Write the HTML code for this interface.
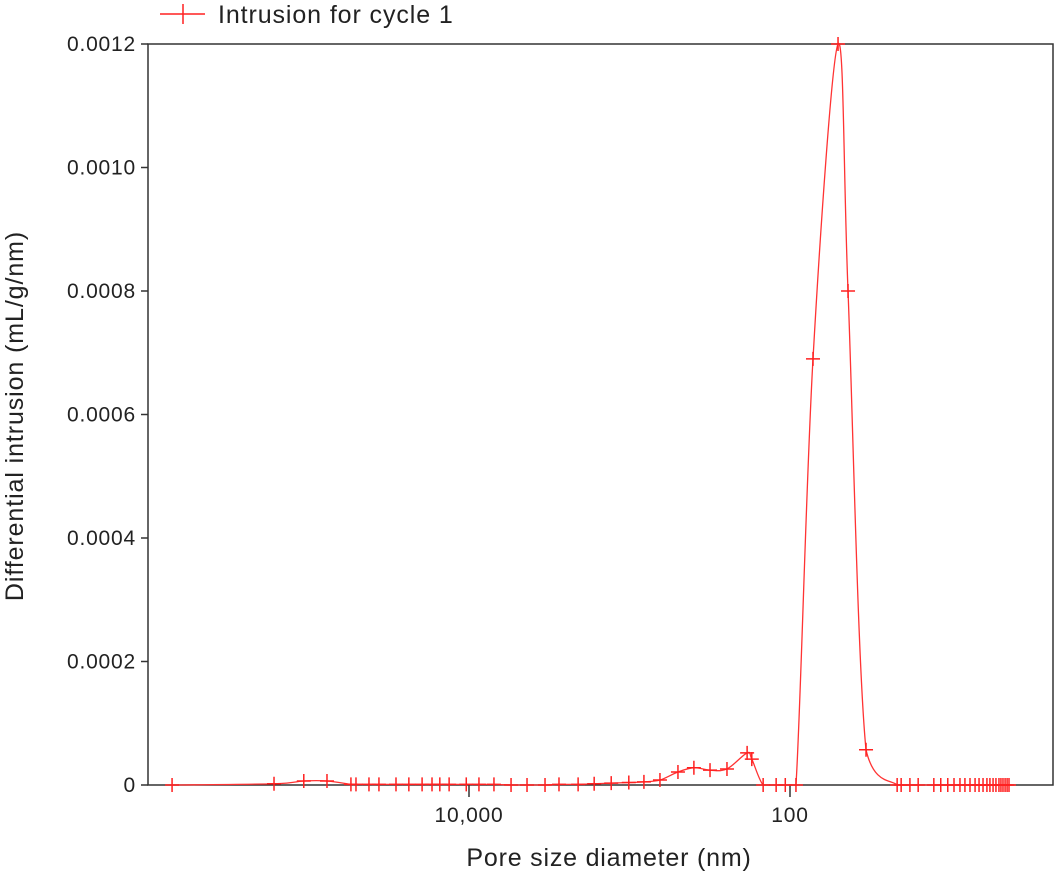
<!DOCTYPE html>
<html><head><meta charset="utf-8"><style>
body{margin:0;background:#fff;}
svg text{font-family:"Liberation Sans",sans-serif;fill:#222;}
</style></head><body>
<svg width="1055" height="875">
<g id="g"></g>
</svg>
<script>
const diameters=[708000,164000,107000,76700,54400,50600,42000,36400,28500,23700,19600,17000,15200,13300,10400,8670,6990,5470,4350,3360,2750,2090,1660,1300,1010,813,646,499,397,315,247,185,173,147,122,107,91.8,71.9,50.2,43.5,33.6,21.5,20.3,17.9,15.9,12.7,11.5,10.4,9.51,8.73,8.13,7.56,7.03,6.64,6.27,5.93,5.68,5.43,5.21,4.99,4.85,4.71,4.57,4.44,4.32];
const intrusion=[0,0.000002,0.0000065,0.0000065,0.000001,0.000001,0.000001,0.000001,0.000001,0.000001,0.000001,0.000001,0.000001,0.000001,0.000001,0.000001,0.000001,0,0,0,0.000001,0.000001,0.000002,0.000003,0.000004,0.000005,0.000008,0.000021,0.000028,0.000024,0.000026,0.000052,0.000042,0,0,0,0,0.00069,0.0012,0.0008,0.000057,0,0,0,0,0,0,0,0,0,0,0,0,0,0,0,0,0,0,0,0,0,0,0,0];
const yTicks=[0,0.0002,0.0004,0.0006,0.0008,0.0010,0.0012];
const yTickLabels=["0","0.0002","0.0004","0.0006","0.0008","0.0010","0.0012"];
const xTicks=[10000,100];
const xTickLabels=["10,000","100"];
const L=148,R=1053,T=44,B=785;
const xs=d=>469+(4-Math.log10(d))*160.5;
const ys=v=>B-v/0.0012*(B-T);
const g=document.getElementById('g');
const NS='http://www.w3.org/2000/svg';
function mk(t,a,p){const e=document.createElementNS(NS,t);for(const k in a)e.setAttribute(k,a[k]);(p||g).appendChild(e);return e;}
const frame=mk('rect',{x:L,y:T,width:R-L,height:B-T,fill:'none',stroke:'#333','stroke-width':1.5});


yTicks.forEach((v,i)=>{
  const t=mk('line',{x1:L-7,x2:L,y1:ys(v),y2:ys(v),stroke:'#333','stroke-width':1.5});
  
  
  const tx=mk('text',{x:L-12,y:ys(v)+7,'text-anchor':'end','font-size':21,'letter-spacing':0.8});
  tx.textContent=yTickLabels[i];
  
  
});
xTicks.forEach((v,i)=>{
  const t=mk('line',{x1:xs(v),x2:xs(v),y1:B,y2:B+12,stroke:'#333','stroke-width':1.5});
  
  
  const tx=mk('text',{x:xs(v),y:B+37,'text-anchor':'middle','font-size':21,'letter-spacing':0.8});
  tx.textContent=xTickLabels[i];
  
  
});
const xt=mk('text',{x:609,y:866,'text-anchor':'middle','font-size':25,'letter-spacing':0.8});
xt.textContent='Pore size diameter (nm)';


const yt=mk('text',{x:0,y:0,'text-anchor':'middle','font-size':25,'letter-spacing':0.9,transform:'translate(23,416) rotate(-90)'});
yt.textContent='Differential intrusion (mL/g/nm)';


const P=diameters.map((d,i)=>[xs(d),ys(intrusion[i])]);
let dstr=`M${P[0][0]},${P[0][1]}`;
for(let i=0;i<P.length-1;i++){
  const p0=P[Math.max(0,i-1)],p1=P[i],p2=P[i+1],p3=P[Math.min(P.length-1,i+2)];
  let c1y=p1[1]+(p2[1]-p0[1])/6,c2y=p2[1]-(p3[1]-p1[1])/6;
  c1y=Math.min(c1y,B);c2y=Math.min(c2y,B);
  dstr+=` C${p1[0]+(p2[0]-p0[0])/6},${c1y} ${p2[0]-(p3[0]-p1[0])/6},${c2y} ${p2[0]},${p2[1]}`;
}
const line=mk('path',{d:dstr,fill:'none',stroke:'#ff3333','stroke-width':1.3});


P.forEach(p=>{
  const m=mk('path',{d:`M${p[0]-7},${p[1]}H${p[0]+7}M${p[0]},${p[1]-7}V${p[1]+7}`,stroke:'#ff2020','stroke-width':1.5});
  
  
});
const lg=mk('path',{d:'M160,14H205M183,4V24',stroke:'#ff2020','stroke-width':1.5});


const lt=mk('text',{x:218,y:23,'font-size':25,'letter-spacing':0.9});
lt.textContent='Intrusion for cycle 1';


</script>
</body></html>
